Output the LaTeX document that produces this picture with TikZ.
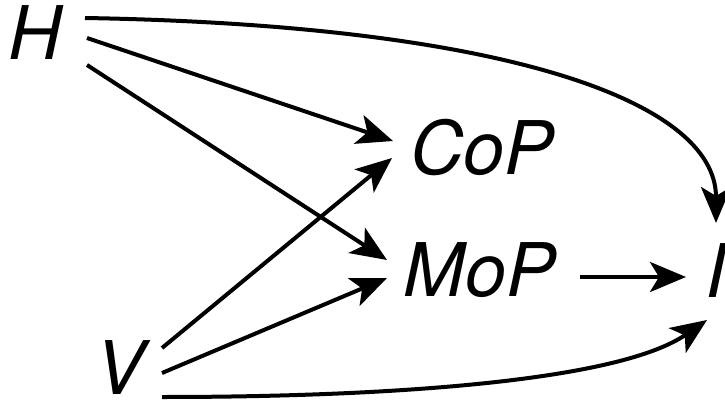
\documentclass[tikz,border=0pt]{standalone}
\usepackage{fontspec}
\setmainfont{TeX Gyre Heros}
\usetikzlibrary{arrows.meta,calc}
\begin{document}
\begin{tikzpicture}[x=1pt,y=-1pt,
  lbl/.style={inner sep=0pt,anchor=base,font=\fontsize{74}{80}\selectfont\itshape},
  conn/.style={line width=4pt,-{Stealth[length=36pt,width=30pt,inset=9pt]}}]
\useasboundingbox (0,0) rectangle (725,406);
\node[lbl] (H) at (35,60) {H};
\node[lbl] (CoP) at (482,175) {CoP};
\node[lbl] (MoP) at (480,296) {MoP};
\node[lbl] (I) at (716,297) {I};
\node[lbl] (V) at (120,394) {V};
% H edges
\draw[conn] ([shift={(50,-42)}]H.base) .. controls +(415,7) and +(0,-123) .. ([shift={(0,-74)}]I.base);
\draw[conn] ([shift={(52,-22)}]H.base) -- ([shift={(-89,-34)}]CoP.base);
\draw[conn] ([shift={(52,5)}]H.base) -- ([shift={(-93,-36)}]MoP.base);
% V edges
\draw[conn] ([shift={(42,-46)}]V.base) -- ([shift={(-90,-17)}]CoP.base);
\draw[conn] ([shift={(42,-21)}]V.base) -- ([shift={(-93,-18)}]MoP.base);
\draw[conn] ([shift={(42,3)}]V.base) .. controls +(238,0) and +(-87,60) .. ([shift={(-9,23)}]I.base);
% MoP to I
\draw[conn] ([shift={(100,-19)}]MoP.base) -- ([shift={(-30,-20)}]I.base);
\end{tikzpicture}
\end{document}
